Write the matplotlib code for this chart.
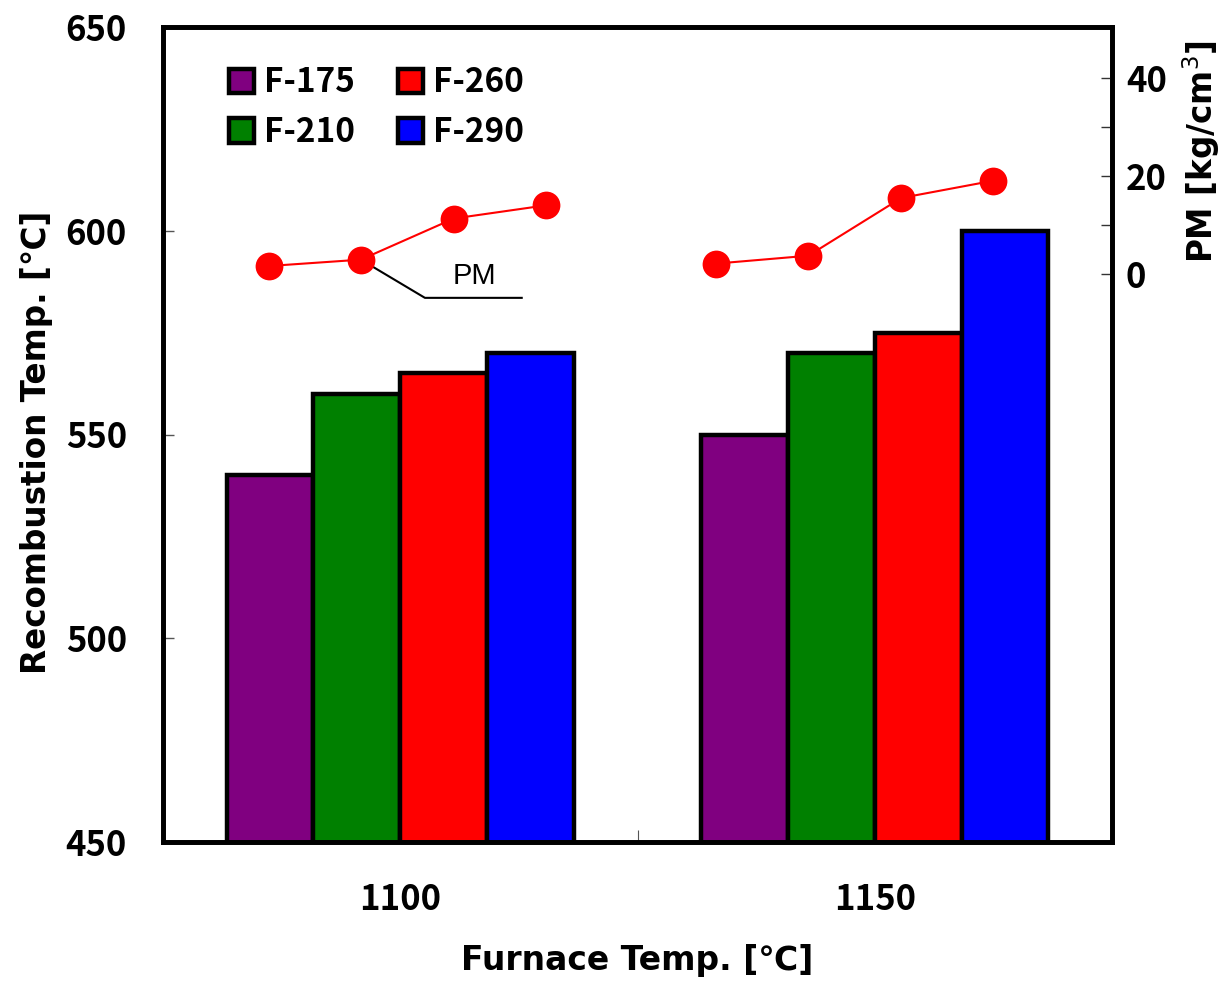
import matplotlib
matplotlib.use("Agg")
import matplotlib.pyplot as plt
import numpy as np

# Furnace temperature groups and fuel grades
furnace_temps = ["1100", "1150"]
grades = ["F-175", "F-210", "F-260", "F-290"]
grade_colors = ["#800080", "#008000", "#FF0000", "#0000FF"]

# Recombustion temperature [°C] per grade, one list per grade (1100, 1150)
recomb_f175 = [540, 550]
recomb_f210 = [560, 570]
recomb_f260 = [565, 575]
recomb_f290 = [570, 600]

# PM [kg/cm3] per furnace temperature, ordered F-175 .. F-290
pm_1100 = [1.6, 2.9, 11.3, 14.0]
pm_1150 = [2.1, 3.7, 15.5, 19.0]

plt.rcParams["font.family"] = ["Noto Sans CJK JP", "DejaVu Sans"]
label_font = ["DejaVu Sans", "Noto Sans CJK JP"]

fig = plt.figure(figsize=(12.23, 9.81), dpi=100)
ax = fig.add_axes([163 / 1223, 1 - 842 / 981, (1112 - 163) / 1223, (842 - 27) / 981])

x = np.arange(len(furnace_temps))
bar_w = 0.183
series = [recomb_f175, recomb_f210, recomb_f260, recomb_f290]
for i, (name, vals, col) in enumerate(zip(grades, series, grade_colors)):
    ax.bar(x + (i - 1.5) * bar_w, vals, width=bar_w, bottom=0, color=col,
           edgecolor="black", linewidth=3.2, label=name, zorder=2)

ax.set_xlim(-0.5, 1.5)
ax.set_ylim(450, 650)
ax.set_yticks([450, 500, 550, 600, 650])
ax.set_xticks(x)
ax.set_xticklabels(furnace_temps)
ax.set_xticks([0.5], minor=True)
ax.tick_params(axis="x", which="major", length=0, pad=29, labelsize=25)
ax.tick_params(axis="x", which="minor", direction="in", length=9, width=0.8, color="#555555")
ax.tick_params(axis="y", which="major", direction="in", length=8, width=1.0,
               color="#555555", pad=26, labelsize=25)
for lab in ax.get_xticklabels() + ax.get_yticklabels():
    lab.set_fontweight("bold")
for sp in ax.spines.values():
    sp.set_linewidth(3.4)
    sp.set_zorder(5)

# Axis titles
ax.text(0.5, -0.145, "Furnace Temp. [℃]", transform=ax.transAxes, ha="center",
        va="center", fontsize=23.8, fontweight="bold", family=label_font)
ax.text(-0.133, 0.49, "Recombustion Temp. [℃]", transform=ax.transAxes, rotation=90,
        ha="center", va="center", fontsize=23.5, fontweight="bold", family=label_font)

leg = ax.legend(ncol=2, loc="upper left", bbox_to_anchor=(0.055, 0.968), frameon=False,
                fontsize=24, handlelength=0.75, handleheight=0.75, handletextpad=0.3,
                columnspacing=1.3, labelspacing=0.5, borderaxespad=0)
for t in leg.get_texts():
    t.set_fontweight("bold")

# Secondary axis for PM
ax2 = ax.twinx()
ax2.set_ylim(-116, 50.4)
ax2.set_yticks([0, 20, 40])
ax2.set_yticks([10, 30], minor=True)
ax2.tick_params(axis="y", which="both", direction="in", length=8, width=1.0,
                color="#333333", pad=10, labelsize=25)
for lab in ax2.get_yticklabels():
    lab.set_fontweight("bold")
for sp in ax2.spines.values():
    sp.set_linewidth(3.4)

pm_offsets = {
    0: [-0.277, -0.083, 0.113, 0.308],
    1: [-0.334, -0.140, 0.056, 0.249],
}
for gi, pm_vals in enumerate([pm_1100, pm_1150]):
    px = gi + np.array(pm_offsets[gi])
    ax2.plot(px, pm_vals, color="#FF0000", linewidth=1.5, marker="o",
             markersize=20, markeredgewidth=0, zorder=4)
    if gi == 0:
        # leader line pointing to the PM series
        ax2.plot([px[1], 0.052, 0.256], [pm_vals[1], -4.9, -4.9],
                 color="black", linewidth=1.5, zorder=3)
        ax2.text(0.156, -3.2, "PM", ha="center", va="bottom", fontsize=21,
                 family=["Liberation Sans"])

ax2.text(1.094, 0.847, "PM [kg/cm$^3$]", transform=ax.transAxes, rotation=90,
         ha="center", va="center", fontsize=23.5, fontweight="bold",
         family=label_font)

fig.savefig("out.png", dpi=100)
